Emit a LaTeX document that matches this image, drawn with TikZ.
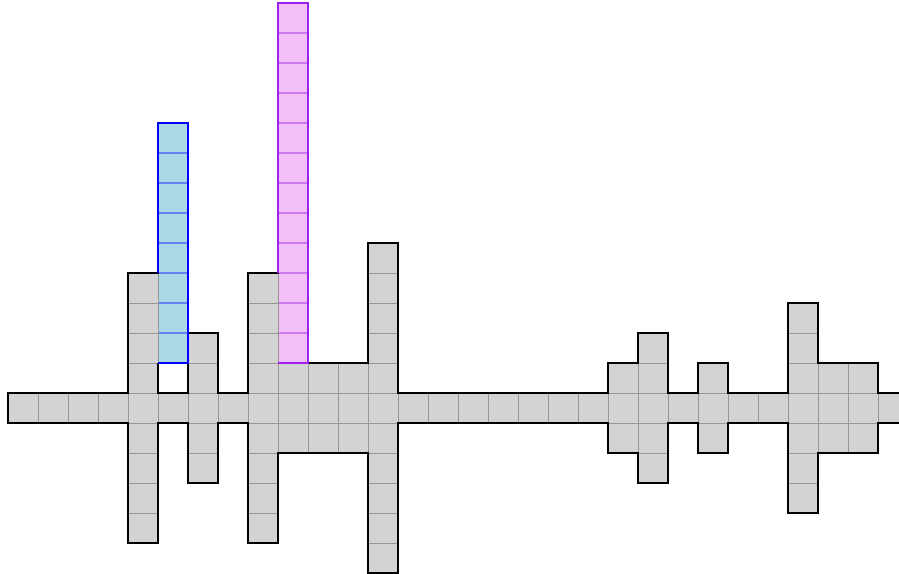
\documentclass[tikz,border=0pt]{standalone}

\definecolor{cellgray}{RGB}{211,211,211}
\definecolor{gridgray}{RGB}{150,150,150}
\definecolor{bluefill}{RGB}{173,216,230}
\definecolor{blueline}{RGB}{100,130,240}
\definecolor{pinkfill}{RGB}{244,190,246}
\definecolor{pinkline}{RGB}{205,120,240}
\definecolor{purpleedge}{RGB}{160,32,240}

\begin{document}
\begin{tikzpicture}[
        x=0.5cm, y=0.5cm,
        cell/.style={
            fill=cellgray, draw=gridgray, line width=0.45pt
        },
        edge/.style={
            line width=0.8pt, line join=miter
        }
    ]
        \useasboundingbox (-0.267,-5.033) rectangle (29.7,14.1);
        \clip (-0.267,-5.033) rectangle (29.7,14.1);

        % Blue column
        \begin{scope}[xshift=2.5cm]
            \fill[bluefill] (0,2) rectangle (1,10);
            \foreach \r in {3,...,9}
                \draw[blueline, line width=0.5pt] (0,\r) -- (1,\r);
        \end{scope}

        % Pink column
        \begin{scope}[xshift=4.5cm]
            \fill[pinkfill] (0,2) rectangle (1,14);
            \foreach \r in {3,...,13}
                \draw[pinkline, line width=0.5pt] (0,\r) -- (1,\r);
        \end{scope}

        % Grey cells: column / lowest row / highest row
        \foreach \c/\lo/\hi in {0/0/0, 1/0/0, 2/0/0, 3/0/0, 4/-4/4, 5/0/0,
                6/-2/2, 7/0/0, 8/-4/4, 9/-1/1, 10/-1/1, 11/-1/1, 12/-5/5,
                13/0/0, 14/0/0, 15/0/0, 16/0/0, 17/0/0, 18/0/0, 19/0/0,
                20/-1/1, 21/-2/2, 22/0/0, 23/-1/1, 24/0/0, 25/0/0,
                26/-3/3, 27/-1/1, 28/-1/1, 29/0/0}
            \foreach \r in {\lo,...,\hi}
                \draw[cell] (\c,\r) rectangle ++(1,1);

        % Outline
        \draw[edge] (0,0) -- (0,1) -- (4,1) -- (4,5) -- (5,5) -- (5,10)
            -- (6,10) -- (6,3) -- (7,3) -- (7,1) -- (8,1) -- (8,5) -- (9,5)
            -- (9,14) -- (10,14) -- (10,2) -- (12,2) -- (12,6) -- (13,6)
            -- (13,1) -- (20,1) -- (20,2) -- (21,2) -- (21,3) -- (22,3)
            -- (22,1) -- (23,1) -- (23,2) -- (24,2) -- (24,1) -- (26,1)
            -- (26,4) -- (27,4) -- (27,2) -- (29,2) -- (29,1) -- (31,1)
            -- (31,0) -- (29,0) -- (29,-1) -- (27,-1) -- (27,-3) -- (26,-3)
            -- (26,0) -- (24,0) -- (24,-1) -- (23,-1) -- (23,0) -- (22,0)
            -- (22,-2) -- (21,-2) -- (21,-1) -- (20,-1) -- (20,0) -- (13,0)
            -- (13,-5) -- (12,-5) -- (12,-1) -- (9,-1) -- (9,-4) -- (8,-4)
            -- (8,0) -- (7,0) -- (7,-2) -- (6,-2) -- (6,0) -- (5,0) -- (5,-4)
            -- (4,-4) -- (4,0) -- cycle;
        \draw[edge] (5,2) -- (5,1) -- (6,1) -- (6,2);

        \draw[edge, blue] (5,5) -- (5,10) -- (6,10) -- (6,2) -- (5,2);

        \draw[edge, purpleedge] (9,5) -- (9,14) -- (10,14) -- (10,2) -- (9,2);

    \end{tikzpicture}
\end{document}
